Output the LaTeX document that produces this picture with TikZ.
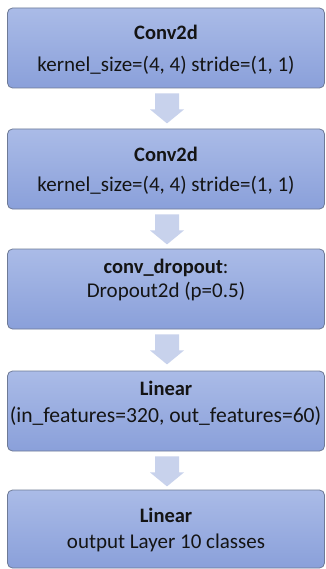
\documentclass[tikz,border=0pt]{standalone}
\usepackage{fontspec}
\setmainfont{Carlito}
\usetikzlibrary{calc}
\definecolor{boxtop}{RGB}{170,187,231}
\definecolor{boxbot}{RGB}{138,160,218}
\definecolor{boxline}{RGB}{110,122,150}
\definecolor{arrowc}{RGB}{200,210,236}
\definecolor{txt}{RGB}{20,20,20}
\tikzset{
  blk/.style={draw=boxline, line width=0.8pt, rounded corners=5pt,
    top color=boxtop, bottom color=boxbot, minimum width=317pt,
    inner sep=0pt},
  ttl/.style={font=\fontsize{20.5}{24}\selectfont\bfseries, text=txt, inner sep=0pt},
  sub/.style={font=\fontsize{21}{24}\selectfont, text=txt, inner sep=0pt},
  subwide/.style={font=\fontsize{21.6}{24}\selectfont, text=txt, inner sep=0pt},
  blockarrow/.style={fill=arrowc, draw=none}
}
\newcommand{\downblk}[2]{%
  \coordinate (#2) at ($(#1.south)+(1,0)$);
  \fill[blockarrow] ($(#2)+(-12,5)$) -- ($(#2)+(12,5)$) -- ($(#2)+(12,21)$)
    -- ($(#2)+(17,21)$) -- ($(#2)+(0,35)$) -- ($(#2)+(-17,21)$)
    -- ($(#2)+(-12,21)$) -- cycle;}
\begin{document}
\begin{tikzpicture}[x=1pt,y=-1pt]
\useasboundingbox (0,0) rectangle (325,569);
\fill[white] (0,0) rectangle (325,569);
% boxes
\node[blk, minimum height=80pt] (b1) at (166,48) {};
\node[blk, minimum height=80pt] (b2) at (166,169) {};
\node[blk, minimum height=80pt] (b3) at (166,289) {};
\node[blk, minimum height=80pt] (b4) at (166,411) {};
\node[blk, minimum height=78pt] (b5) at (166,529) {};
% texts
\node[ttl] (t1) at ($(b1.center)+(0,-16)$) {Conv2d};
\node[sub] (s1) at ($(b1.center)+(0,17)$) {kernel\_size=(4, 4) stride=(1, 1)};
\node[ttl] (t2) at ($(b2.center)+(0,-15)$) {Conv2d};
\node[sub] (s2) at ($(b2.center)+(0,16)$) {kernel\_size=(4, 4) stride=(1, 1)};
\node[ttl] (t3) at ($(b3.center)+(0,-21)$) {conv\_dropout\textmd{:}};
\node[sub] (s3) at ($(b3.center)+(0,3)$) {Dropout2d (p=0.5)};
\node[ttl] (t4) at ($(b4.center)+(0,-23)$) {Linear};
\node[subwide] (s4) at ($(b4.center)+(-0.5,5)$) {(in\_features=320, out\_features=60)};
\node[ttl] (t5) at ($(b5.center)+(0,-14)$) {Linear};
\node[sub] (s5) at ($(b5.center)+(0,14)$) {output Layer 10 classes};
% arrows
\downblk{b1}{a1}
\downblk{b2}{a2}
\downblk{b3}{a3}
\downblk{b4}{a4}
\end{tikzpicture}
\end{document}
